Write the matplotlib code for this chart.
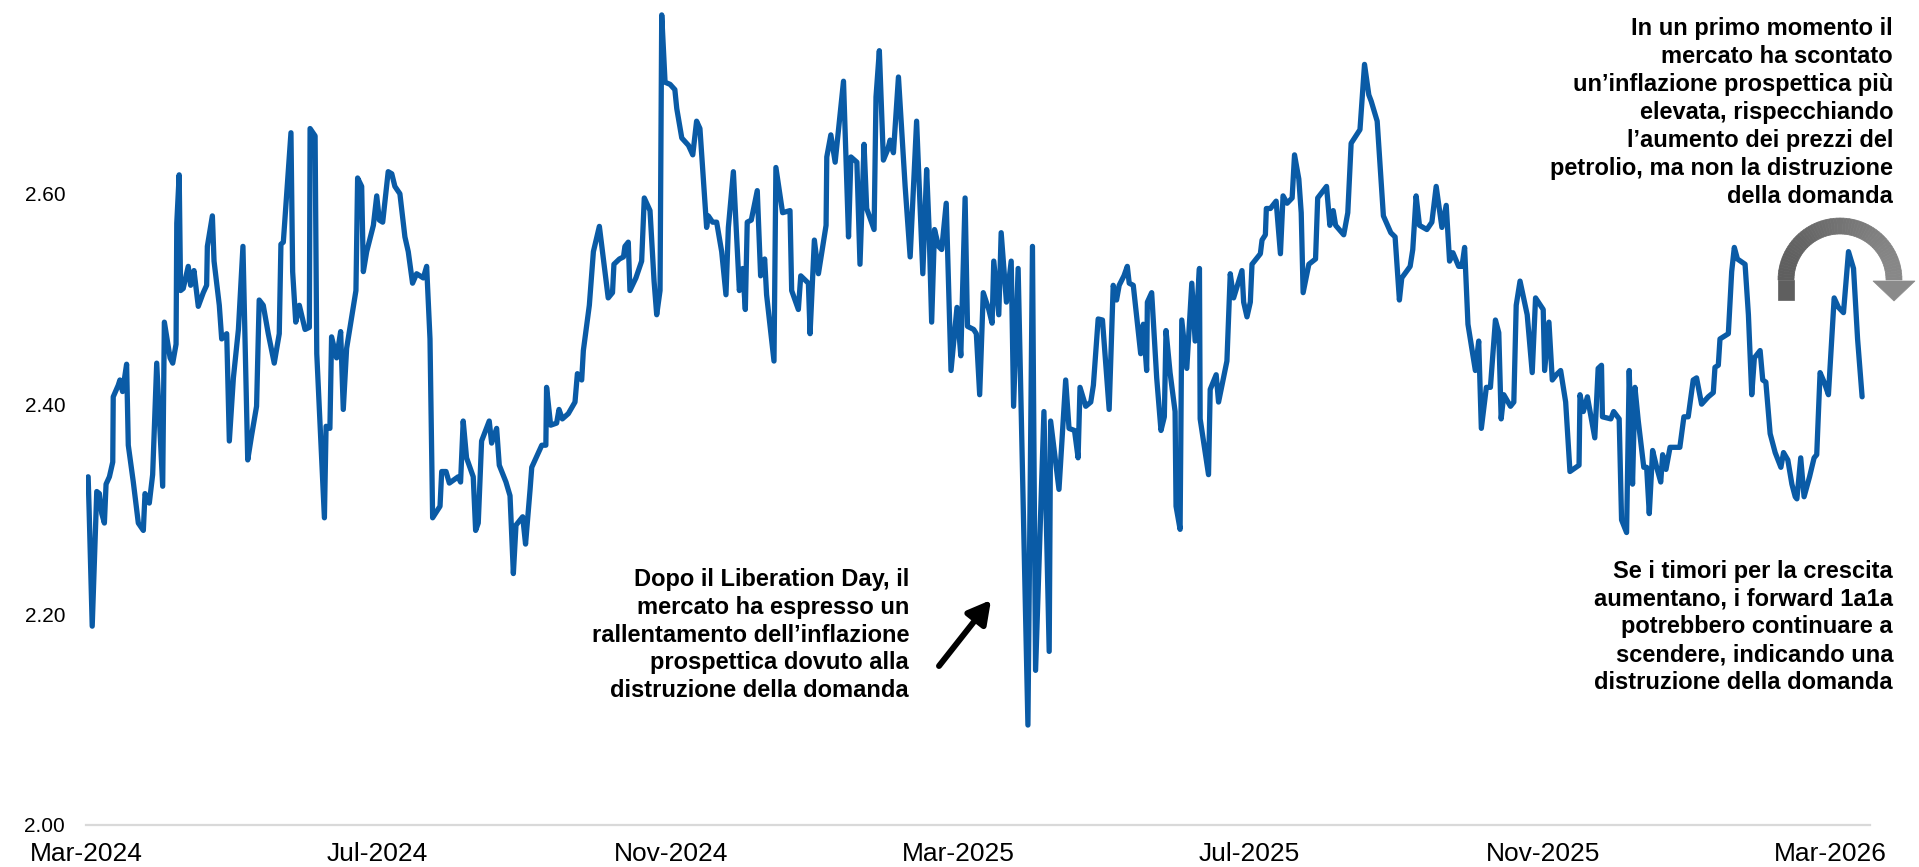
import numpy as np
import pandas as pd
import matplotlib
matplotlib.use("Agg")
import matplotlib.pyplot as plt
import matplotlib.dates as mdates
from matplotlib.patches import Polygon
from matplotlib.colors import to_rgb

# 1y1y forward inflation swap rate, sampled from 1 March 2024
start_date = "2024-03-01"

# days elapsed since start_date
day_offset = [
    0.9, 1.3, 2.6, 4.5, 5.6, 6.6, 7.7, 8.4, 9.8, 11.2, 11.4, 13.5, 14.2, 15.3, 17.0, 17.7,
    19.8, 21.9, 24.0, 24.7, 26.5, 27.9, 29.6, 32.1, 32.8, 35.2, 36.3, 37.7, 38.0, 39.0,
    39.6, 40.7, 42.8, 43.8, 45.2, 47.0, 49.1, 50.5, 50.8, 52.9, 53.6, 55.8, 56.8, 58.9,
    60.0, 61.7, 63.8, 65.7, 67.7, 69.3, 71.4, 72.5, 74.2, 76.3, 78.8, 80.9, 81.6, 82.6,
    85.8, 86.5, 87.8, 89.3, 91.7, 93.5, 93.8, 95.9, 96.6, 98.0, 99.8, 100.5, 102.1,
    102.8, 104.9, 106.6, 107.7, 109.1, 113.0, 113.7, 115.4, 116.1, 117.5, 120.3, 121.7,
    122.8, 124.2, 126.5, 128.0, 129.3, 131.4, 133.5, 134.9, 136.7, 138.4, 141.2, 142.6,
    144.0, 145.1, 148.2, 148.9, 150.7, 152.1, 155.8, 156.8, 157.9, 159.3, 162.1, 163.1,
    164.2, 165.6, 168.8, 169.8, 171.9, 173.0, 175.8, 177.5, 178.9, 180.0, 182.8, 184.0,
    185.9, 186.6, 189.4, 190.8, 192.5, 192.8, 194.5, 197.0, 198.0, 199.4, 201.9, 204.7,
    205.7, 207.5, 208.2, 210.7, 212.4,
    214.9, 218.6, 220.4, 221.0, 223.3, 225.0, 225.6, 227.0, 227.7, 230.2, 232.6, 233.7,
    234.7, 236.1, 237.8, 238.9, 240.3, 241.0, 242.4, 244.5, 246.5, 247.3, 249.4, 252.2,
    254.0, 255.6, 257.0, 259.8, 260.5, 262.3, 264.0, 266.1, 267.9, 268.9, 271.0, 273.5,
    274.9, 276.0, 276.8, 278.5, 281.0, 282.4, 284.1, 284.9, 288.0, 288.8, 291.6, 294.7,
    295.4, 298.2, 299.2, 302.4, 303.1, 304.9, 306.6, 309.8, 310.1, 311.8, 313.6, 317.1,
    319.2, 320.2, 322.7,
    324.0, 325.7, 326.8, 329.9, 330.7, 332.1, 333.8, 335.6, 336.6, 338.0, 340.1, 342.9,
    345.0, 347.7, 349.1, 350.3, 351.9, 352.9, 354.0, 355.2, 356.9, 358.2, 360.1, 362.1,
    364.6, 366.2, 368.0, 369.0, 371.6, 372.7, 374.1, 375.6, 377.9, 379.3, 380.0, 382.1,
    383.1, 385.3, 387.3, 388.3, 390.2, 394.3, 396.2, 397.5, 401.0, 403.2, 403.8, 407.3,
    410.1, 411.5, 413.8, 415.3, 416.1, 418.5, 420.6, 421.7, 423.7, 425.5, 428.3,
    430.0, 431.4, 432.5, 434.5, 435.9, 436.7, 438.4, 441.5, 442.6, 444.0, 444.3, 446.1,
    448.2, 450.0, 451.4, 452.1, 453.8, 455.9, 456.3, 458.0, 458.7, 460.8, 462.9, 464.3,
    466.1, 466.4, 469.9, 470.6, 473.1, 474.1, 477.6, 479.0, 480.4, 483.9, 484.6, 486.0,
    487.4, 488.1, 491.6, 492.3, 493.7, 494.1, 495.8, 498.2, 500.0, 501.1, 502.8, 504.9,
    505.9, 507.7, 508.7, 509.5, 511.9, 514.7, 515.6, 519.3, 520.7, 522.1, 523.1, 526.5,
    528.2, 529.6, 533.3, 535.2, 537.0, 538.0, 540.5,
    543.1, 546.2, 548.0, 549.8, 550.8, 554.3, 555.4, 556.8, 558.2, 561.3, 563.4, 565.2,
    567.6, 569.4, 570.8, 572.2, 574.6, 576.0, 577.1, 578.5, 581.6, 583.0, 584.1, 586.2,
    587.9, 590.0, 591.4, 592.4, 593.5, 596.3, 597.7, 598.7, 600.3, 603.3, 605.4, 606.8,
    610.0, 610.6, 612.4, 613.8, 615.5, 617.3, 619.4, 621.2, 625.0, 625.4, 626.8, 628.5,
    631.6, 633.0, 634.4, 634.8, 638.3, 639.5, 641.8,
    642.8, 644.9, 646.0, 647.4, 648.4, 649.8, 652.1, 653.3, 654.4, 655.8, 657.5, 659.2,
    660.0, 661.4, 663.1, 667.2, 668.9, 670.7, 672.8, 674.2, 676.3, 679.1, 681.2, 681.9,
    683.3, 684.0, 687.5, 688.9, 690.0, 691.3, 694.5, 695.9, 697.3, 698.4, 700.8, 701.9,
    703.2, 705.0, 707.1, 709.5, 710.6, 712.4, 714.1, 715.5, 716.2, 717.8, 719.2, 721.5,
    723.4, 724.5, 725.9, 727.6, 729.4, 731.8, 733.6, 735.7, 737.8, 739.9, 741.6, 743.5,
]

forward_1y1y = [
    2.331, 2.300, 2.189, 2.317, 2.315, 2.296, 2.287, 2.324, 2.331, 2.345, 2.407, 2.418,
    2.423, 2.412, 2.438, 2.361, 2.326, 2.287, 2.280, 2.315, 2.306, 2.333, 2.439, 2.322,
    2.478, 2.444, 2.439, 2.457, 2.572, 2.618, 2.508, 2.510, 2.531, 2.513, 2.527, 2.493,
    2.506, 2.513, 2.550, 2.579, 2.536, 2.494, 2.462, 2.467, 2.365, 2.425, 2.471, 2.550,
    2.347, 2.370, 2.398, 2.499, 2.494, 2.467, 2.439, 2.467, 2.552, 2.554, 2.658, 2.526,
    2.478, 2.494, 2.471, 2.473, 2.662, 2.655, 2.448, 2.379, 2.292, 2.379, 2.377,
    2.464, 2.444, 2.469, 2.395, 2.453, 2.508, 2.615, 2.607, 2.526, 2.545, 2.570, 2.598,
    2.575, 2.573, 2.621, 2.619, 2.607, 2.600, 2.559, 2.545, 2.515, 2.524, 2.520, 2.531,
    2.462, 2.292, 2.303, 2.336, 2.336, 2.325, 2.331, 2.326, 2.384, 2.349, 2.331, 2.280,
    2.287, 2.365, 2.384, 2.363, 2.377, 2.342, 2.326, 2.313, 2.239, 2.285, 2.293, 2.267,
    2.319, 2.340, 2.354, 2.361, 2.361, 2.416, 2.380, 2.382, 2.395, 2.386, 2.391, 2.402,
    2.429, 2.423, 2.451, 2.494, 2.545,
    2.569, 2.501, 2.506, 2.533, 2.538, 2.540, 2.550, 2.554, 2.508, 2.520, 2.536, 2.596,
    2.591, 2.584, 2.517, 2.485, 2.508, 2.770, 2.706, 2.704, 2.699, 2.681, 2.653, 2.646,
    2.637, 2.669, 2.662, 2.568, 2.579, 2.573, 2.573, 2.545, 2.504, 2.568, 2.621, 2.508,
    2.529, 2.490, 2.573, 2.575, 2.603, 2.522, 2.538, 2.504, 2.441, 2.625, 2.582, 2.584,
    2.508, 2.490, 2.522, 2.515, 2.467, 2.556, 2.524, 2.570, 2.635, 2.656, 2.630, 2.707,
    2.559, 2.635, 2.630,
    2.533, 2.647, 2.586, 2.566, 2.692, 2.736, 2.632, 2.642, 2.651, 2.639, 2.711, 2.607,
    2.540, 2.669, 2.591, 2.524, 2.623, 2.568, 2.478, 2.566, 2.550, 2.547, 2.591, 2.432,
    2.492, 2.446, 2.596, 2.474, 2.471, 2.467, 2.409, 2.506, 2.490, 2.477, 2.536, 2.485,
    2.563, 2.497, 2.536, 2.398, 2.529, 2.095, 2.550, 2.147, 2.393, 2.165, 2.384, 2.319,
    2.423, 2.377, 2.375, 2.349, 2.416, 2.398, 2.402, 2.418, 2.481, 2.480, 2.395,
    2.513, 2.499, 2.513, 2.522, 2.531, 2.515, 2.513, 2.448, 2.476, 2.432, 2.497, 2.506,
    2.425, 2.375, 2.388, 2.470, 2.430, 2.393, 2.303, 2.281, 2.480, 2.434, 2.515, 2.460,
    2.529, 2.386, 2.333, 2.414, 2.428, 2.402, 2.441, 2.524, 2.501, 2.527, 2.497, 2.483,
    2.497, 2.533, 2.543, 2.556, 2.561, 2.586, 2.586, 2.593, 2.543, 2.598, 2.591, 2.596,
    2.637, 2.614, 2.582, 2.506, 2.533, 2.538, 2.596, 2.607, 2.570, 2.584, 2.570, 2.561,
    2.582, 2.648, 2.661, 2.723, 2.694, 2.688, 2.669,
    2.579, 2.563, 2.559, 2.499, 2.520, 2.531, 2.547, 2.598, 2.570, 2.566, 2.573, 2.607,
    2.568, 2.589, 2.536, 2.544, 2.531, 2.531, 2.549, 2.476, 2.432, 2.460, 2.377, 2.416,
    2.416, 2.480, 2.468, 2.386, 2.409, 2.398, 2.402, 2.494, 2.517, 2.485, 2.430, 2.501,
    2.490, 2.432, 2.478, 2.423, 2.428, 2.432, 2.402, 2.336, 2.342, 2.409, 2.393, 2.407,
    2.368, 2.434, 2.437, 2.388, 2.386, 2.393, 2.386,
    2.290, 2.278, 2.432, 2.324, 2.416, 2.384, 2.340, 2.340, 2.296, 2.356, 2.340, 2.326,
    2.352, 2.338, 2.359, 2.359, 2.388, 2.388, 2.423, 2.425, 2.400, 2.407, 2.411, 2.435,
    2.437, 2.462, 2.467, 2.526, 2.549, 2.538, 2.533, 2.485, 2.409, 2.444, 2.451, 2.423,
    2.421, 2.372, 2.354, 2.340, 2.354, 2.347, 2.324, 2.312, 2.310, 2.349, 2.312, 2.331,
    2.349, 2.352, 2.430, 2.421, 2.409, 2.501, 2.492, 2.487, 2.545, 2.529, 2.462, 2.407,
]

y_ticks = [2.00, 2.20, 2.40, 2.60]
x_tick_months = ["2024-03-01", "2024-07-01", "2024-11-01", "2025-03-01",
                 "2025-07-01", "2025-11-01", "2026-03-01"]

note_liberation = ("Dopo il Liberation Day, il\nmercato ha espresso un\n"
                   "rallentamento dell\u2019inflazione\nprospettica dovuto alla\n"
                   "distruzione della domanda")
note_oil = ("In un primo momento il\nmercato ha scontato\n"
            "un\u2019inflazione prospettica più\nelevata, rispecchiando\n"
            "l\u2019aumento dei prezzi del\npetrolio, ma non la distruzione\n"
            "della domanda")
note_growth = ("Se i timori per la crescita\naumentano, i forward 1a1a\n"
               "potrebbero continuare a\nscendere, indicando una\n"
               "distruzione della domanda")

# ---------------------------------------------------------------------------
plt.rcParams["font.family"] = ["Liberation Sans", "DejaVu Sans"]

W, H = 1919, 867
fig = plt.figure(figsize=(W / 100, H / 100), dpi=100)
ax = fig.add_axes([86 / W, (H - 825) / H, (1870 - 86) / W, (825 - 4.4) / H])

t0 = pd.Timestamp(start_date)
dates = t0 + pd.to_timedelta(np.array(day_offset), unit="D")

ax.plot(dates, forward_1y1y, color="#0A5BA6", lw=3.8,
        solid_joinstyle="round", solid_capstyle="round")

ax.set_xlim(t0, t0 + pd.Timedelta(days=746.8))
ax.set_ylim(2.0, 2.78)

ax.set_yticks(y_ticks)
ax.yaxis.set_major_formatter(matplotlib.ticker.FormatStrFormatter("%.2f"))
ax.set_xticks(pd.to_datetime(x_tick_months))
ax.xaxis.set_major_formatter(mdates.DateFormatter("%b-%Y"))

for s in ("top", "right", "left"):
    ax.spines[s].set_visible(False)
ax.spines["bottom"].set_color("#D9D9D9")
ax.spines["bottom"].set_linewidth(1.6)
ax.tick_params(axis="both", length=0, colors="black")
ax.tick_params(axis="y", labelsize=15, pad=15)
ax.tick_params(axis="x", labelsize=19, pad=12)


def fig_xy(x, y):
    """Pixel position (origin top-left) to figure fraction."""
    return x / W, (H - y) / H


text_kw = dict(transform=fig.transFigure, ha="right", va="center",
               multialignment="right", fontsize=17, fontweight="bold",
               linespacing=1.27, color="black")
fig.text(*fig_xy(909, 635), note_liberation, **text_kw)
fig.text(*fig_xy(1893, 112.5), note_oil, **text_kw)
fig.text(*fig_xy(1893, 627), note_growth, **text_kw)

# black pointer towards the April 2025 drop
ax.annotate("", xy=fig_xy(991, 600), xytext=fig_xy(939, 666),
            xycoords="figure fraction", textcoords="figure fraction",
            arrowprops=dict(arrowstyle="-|>,head_length=0.4,head_width=0.22",
                            lw=4.3, color="black", mutation_scale=34,
                            shrinkA=0, shrinkB=0))

# grey curved arrow (left-to-right gradient)
cx, cy, r_out, r_in = 1840.0, 280.0, 62.0, 46.0
c_left, c_right = np.array(to_rgb("#5C5C5C")), np.array(to_rgb("#909090"))


def grad(xpix):
    f = np.clip((xpix - (cx - r_out)) / (2 * r_out + 14), 0, 1)
    return tuple(c_left + (c_right - c_left) * f)


leg = Polygon([fig_xy(cx - r_out, 300), fig_xy(cx - r_in, 300),
               fig_xy(cx - r_in, cy), fig_xy(cx - r_out, cy)],
              closed=True, transform=fig.transFigure,
              facecolor=grad(cx - 55), edgecolor=grad(cx - 55), lw=0.5)
fig.add_artist(leg)
angles = np.linspace(np.pi, 0, 61)
for a0, a1 in zip(angles[:-1], angles[1:]):
    pts = [(cx + r_out * np.cos(a0), cy - r_out * np.sin(a0)),
           (cx + r_out * np.cos(a1), cy - r_out * np.sin(a1)),
           (cx + r_in * np.cos(a1), cy - r_in * np.sin(a1)),
           (cx + r_in * np.cos(a0), cy - r_in * np.sin(a0))]
    col = grad(cx + 54 * np.cos((a0 + a1) / 2))
    fig.add_artist(Polygon([fig_xy(*p) for p in pts], closed=True,
                           transform=fig.transFigure, facecolor=col,
                           edgecolor=col, lw=0.5))
head = Polygon([fig_xy(1873, 281), fig_xy(1915, 281), fig_xy(1894, 301)],
               closed=True, transform=fig.transFigure,
               facecolor=grad(1900), edgecolor=grad(1900), lw=0.5)
fig.add_artist(head)

fig.savefig("out.png", dpi=100, facecolor="white")
